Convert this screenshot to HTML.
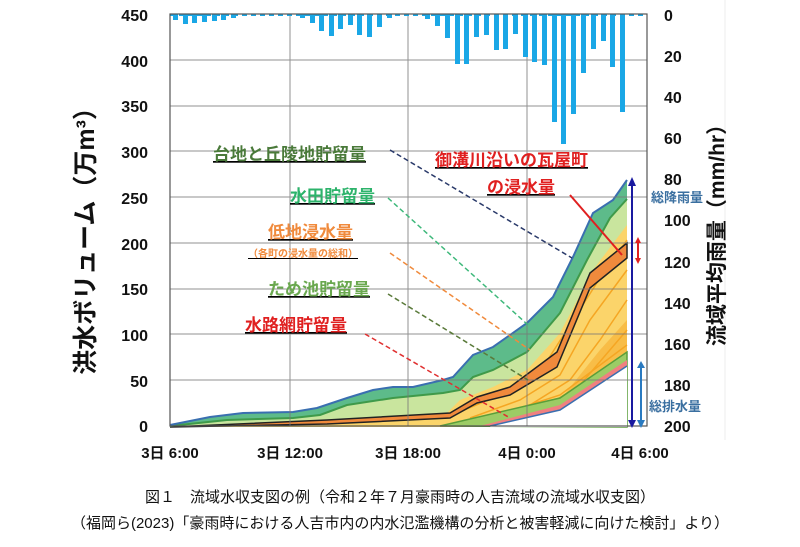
<!DOCTYPE html>
<html><head><meta charset="utf-8"><style>
body{margin:0;background:#fff;}
svg text{font-family:"Liberation Sans","Noto Sans CJK JP",sans-serif;}
</style></head><body>
<svg width="800" height="542" viewBox="0 0 800 542" xmlns="http://www.w3.org/2000/svg">
<rect width="800" height="542" fill="#fff"/>
<line x1="725" y1="0" x2="725" y2="440" stroke="#eee" stroke-width="1"/>
<!-- areas -->
<polygon fill="#5dbb8a" points="170,425 210,417 243,413 293,412 317,408 347,398 373,390 393,387 413,387 443,380 453,377 473,355 493,347 527,323 553,297 573,257 593,213 613,200 627,180 627,427 170,427"/>
<polygon fill="#c9e59e" points="627,199 610,218 587,260 560,313 527,352 493,370 473,377 460,390 443,393 393,398 347,405 320,415 293,418 227,420 170,426 170,427 627,427"/>
<polygon fill="#fbd46a" points="170,427 327,420 447,413 460,400 493,387 527,370 560,333 593,270 627,225 627,427"/>
<g fill="none" stroke="#f5a623" stroke-width="1.5">
<polyline points="450,416 500,395 540,372 570,325 600,278 627,240"/>
<polyline points="470,418 520,400 560,375 590,320 627,270"/>
<polyline points="480,420 530,405 570,380 600,340 627,300"/>
<polyline points="490,422 540,410 580,385 627,330"/>
<polyline points="470,424 560,395 627,345"/>
</g>
<polygon fill="#f5a623" opacity="0.5" points="500,426 560,400 600,350 627,320 627,427"/>
<polygon fill="#f08a3c" stroke="#222" stroke-width="1.5" points="170,427 327,420 450,413 477,397 510,387 557,352 590,273 627,243 627,258 590,288 557,367 510,395 477,403 450,418 327,424"/>
<polygon fill="#9ccc65" stroke="#5a9e3a" stroke-width="1.5" points="440,426 560,398 627,352 627,427"/>
<polygon fill="#f08080" points="480,426 560,405 627,360 627,427"/>
<polygon fill="#fff" points="490,426 560,410 627,366 627,427 490,427"/>
<polyline fill="none" stroke="#3a6fb0" stroke-width="1.5" points="490,426 560,410 627,366"/>
<polyline fill="none" stroke="#3f9a4a" stroke-width="2" points="627,199 610,218 587,260 560,313 527,352 493,370 473,377 460,390 443,393 393,398 347,405 320,415 293,418 227,420 170,426"/>
<polyline fill="none" stroke="#3a6fb0" stroke-width="2" points="170,425 210,417 243,413 293,412 317,408 347,398 373,390 393,387 413,387 443,380 453,377 473,355 493,347 527,323 553,297 573,257 593,213 613,200 627,180"/>
<!-- grid -->
<g stroke="#777" stroke-width="1" opacity="0.8">
<line x1="170" y1="60" x2="647" y2="60"/><line x1="170" y1="106" x2="647" y2="106"/>
<line x1="170" y1="151" x2="647" y2="151"/><line x1="170" y1="197" x2="647" y2="197"/>
<line x1="170" y1="243" x2="647" y2="243"/><line x1="170" y1="289" x2="647" y2="289"/>
<line x1="170" y1="334" x2="647" y2="334"/><line x1="170" y1="380" x2="647" y2="380"/>
<line x1="290" y1="14" x2="290" y2="426"/><line x1="408" y1="14" x2="408" y2="426"/><line x1="527" y1="14" x2="527" y2="426"/>
</g>
<!-- rain bars -->
<g fill="#1aa7e6">
<rect x="173" y="14" width="5" height="6"/><rect x="183" y="14" width="5" height="10"/><rect x="192" y="14" width="5" height="9"/><rect x="202" y="14" width="5" height="8"/><rect x="212" y="14" width="5" height="7"/><rect x="221" y="14" width="5" height="6"/><rect x="231" y="14" width="5" height="4"/>
<rect x="300" y="14" width="5" height="4"/><rect x="310" y="14" width="5" height="9"/><rect x="319" y="14" width="5" height="17"/><rect x="329" y="14" width="5" height="22"/><rect x="338" y="14" width="5" height="15"/><rect x="348" y="14" width="5" height="11"/><rect x="357" y="14" width="5" height="21"/><rect x="367" y="14" width="5" height="23"/><rect x="377" y="14" width="5" height="13"/><rect x="387" y="14" width="5" height="4"/>
<rect x="425" y="14" width="5" height="5"/><rect x="435" y="14" width="5" height="12"/><rect x="445" y="14" width="5" height="24"/><rect x="455" y="14" width="5" height="50"/><rect x="464" y="14" width="5" height="50"/><rect x="474" y="14" width="5" height="23"/><rect x="484" y="14" width="5" height="21"/><rect x="494" y="14" width="5" height="36"/><rect x="503" y="14" width="5" height="35"/><rect x="513" y="14" width="5" height="20"/><rect x="523" y="14" width="5" height="43"/><rect x="532" y="14" width="5" height="48"/><rect x="542" y="14" width="5" height="51"/><rect x="552" y="14" width="5" height="108"/><rect x="561" y="14" width="5" height="130"/><rect x="571" y="14" width="5" height="100"/><rect x="581" y="14" width="5" height="59"/><rect x="591" y="14" width="5" height="35"/><rect x="601" y="14" width="5" height="27"/><rect x="610" y="14" width="5" height="53"/><rect x="620" y="14" width="5" height="98"/>
</g>
<line x1="170" y1="15" x2="647" y2="15" stroke="#1aa7e6" stroke-width="2" stroke-dasharray="5,4"/>
<rect x="170" y="14" width="477" height="412" fill="none" stroke="#555" stroke-width="1.2"/>
<!-- arrows -->
<g stroke-width="2">
<line x1="632" y1="184" x2="632" y2="422" stroke="#1a1aa0"/>
<polygon points="628,186 636,186 632,177" fill="#1a1aa0"/><polygon points="628,420 636,420 632,428" fill="#1a1aa0"/>
<line x1="638" y1="241" x2="638" y2="260" stroke="#e02020"/>
<polygon points="635,243 641,243 638,237" fill="#e02020"/><polygon points="635,258 641,258 638,264" fill="#e02020"/>
<line x1="641" y1="366" x2="641" y2="422" stroke="#2a7ac0"/>
<polygon points="637,368 645,368 641,361" fill="#2a7ac0"/><polygon points="637,420 645,420 641,428" fill="#2a7ac0"/>
</g>
<!-- dashed leader lines -->
<g fill="none" stroke-width="1.5" stroke-dasharray="5,3">
<line x1="390" y1="150" x2="572" y2="258" stroke="#2a3a6a"/>
<line x1="388" y1="198" x2="528" y2="325" stroke="#3db87a"/>
<line x1="390" y1="253" x2="530" y2="350" stroke="#f08a3c"/>
<line x1="388" y1="294" x2="528" y2="380" stroke="#5a7a3a"/>
<line x1="365" y1="334" x2="510" y2="418" stroke="#e03030"/>
</g>
<line x1="570" y1="195" x2="622" y2="255" stroke="#e02020" stroke-width="2"/>
<!-- annotation texts -->
<g font-weight="bold" text-decoration="underline">
<text x="213" y="160" font-size="17" fill="#4a7a3a">台地と丘陵地貯留量</text>
<text x="290" y="202" font-size="17" fill="#2db36b">水田貯留量</text>
<text x="268" y="238" font-size="17" fill="#f08a3c">低地浸水量</text>
<text x="248" y="257" font-size="10" fill="#f08a3c">（各町の浸水量の総和）</text>
<text x="268" y="295" font-size="17" fill="#6aa84f">ため池貯留量</text>
<text x="245" y="331" font-size="17" fill="#e02020">水路網貯留量</text>
<text x="435" y="166" font-size="17" fill="#e02020">御溝川沿いの瓦屋町</text>
<text x="487" y="193" font-size="17" fill="#e02020">の浸水量</text>
</g>
<text x="651" y="202" font-size="13" font-weight="bold" fill="#3a6fa0">総降雨量</text>
<text x="649" y="411" font-size="13" font-weight="bold" fill="#3a6fa0">総排水量</text>
<!-- left ticks -->
<g font-size="16" font-weight="bold" fill="#111" text-anchor="end">
<text x="148" y="21">450</text><text x="148" y="67">400</text><text x="148" y="112">350</text><text x="148" y="158">300</text><text x="148" y="204">250</text><text x="148" y="250">200</text><text x="148" y="295">150</text><text x="148" y="341">100</text><text x="148" y="387">50</text><text x="148" y="432">0</text>
</g>
<g font-size="16" font-weight="bold" fill="#111">
<text x="664" y="21">0</text><text x="664" y="62">20</text><text x="664" y="103">40</text><text x="664" y="144">60</text><text x="664" y="185">80</text><text x="664" y="226">100</text><text x="664" y="268">120</text><text x="664" y="309">140</text><text x="664" y="350">160</text><text x="664" y="391">180</text><text x="664" y="432">200</text>
</g>
<g font-size="15" font-weight="bold" fill="#111" text-anchor="middle">
<text x="170" y="458">3日 6:00</text><text x="290" y="458">3日 12:00</text><text x="408" y="458">3日 18:00</text><text x="527" y="458">4日 0:00</text><text x="640" y="458">4日 6:00</text>
</g>
<text transform="translate(94,235) rotate(-90)" text-anchor="middle" font-size="25" font-weight="bold" fill="#111">洪水ボリューム（万m³）</text>
<text transform="translate(724,230) rotate(-90)" text-anchor="middle" font-size="21" font-weight="bold" fill="#111">流域平均雨量（mm/hr）</text>
<text x="400" y="502" text-anchor="middle" font-size="15" fill="#111">図１　流域水収支図の例（令和２年７月豪雨時の人吉流域の流域水収支図）</text>
<text x="400" y="528" text-anchor="middle" font-size="15" fill="#111">（福岡ら(2023)「豪雨時における人吉市内の内水氾濫機構の分析と被害軽減に向けた検討」より）</text>
</svg>
</body></html>
